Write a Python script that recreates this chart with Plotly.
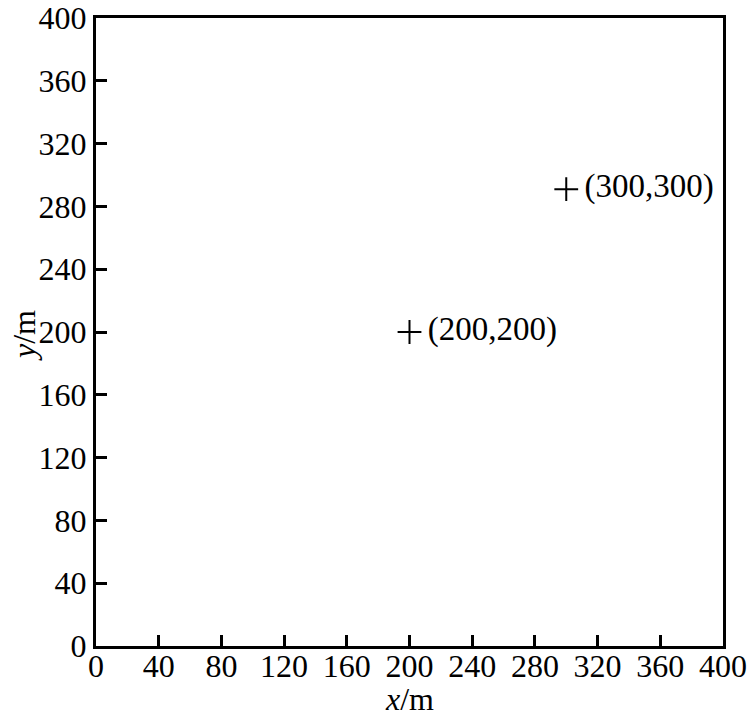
import plotly.graph_objects as go

# data
point_x = [200, 300]
point_y = [200, 291]
point_labels = ["(200,200)", "(300,300)"]
tick_vals = list(range(0, 401, 40))

FONT = "Liberation Serif"
FS = 32

fig = go.Figure()
fig.add_trace(go.Scatter(
    x=point_x, y=point_y,
    mode="markers+text",
    marker=dict(symbol="cross-thin", size=17, line=dict(color="black", width=2), color="black"),
    text=["\u2009" + t for t in point_labels],
    textposition="middle right",
    textfont=dict(family=FONT, size=33, color="black"),
    showlegend=False,
    cliponaxis=False,
))

axis_common = dict(
    range=[0, 400],
    tickvals=tick_vals,
    ticks="inside",
    ticklen=11,
    tickwidth=2.5,
    tickcolor="black",
    showline=True,
    linecolor="black",
    linewidth=3,
    mirror=True,
    showgrid=False,
    zeroline=False,
    automargin=False,
    tickfont=dict(family=FONT, size=FS, color="black"),
)

fig.update_layout(
    width=749, height=721,
    margin=dict(l=96, r=26, t=18, b=75),
    paper_bgcolor="white",
    plot_bgcolor="white",
    xaxis=dict(**axis_common, ticklabelstandoff=-10),
    yaxis=dict(**axis_common),
    annotations=[
        dict(text="<i>x</i>/m", xref="paper", yref="paper", x=0.5, y=-0.085,
             xanchor="center", yanchor="middle", showarrow=False,
             font=dict(family=FONT, size=FS, color="black")),
        dict(text="<i>y</i>/m", xref="paper", yref="paper", x=-0.115, y=0.495,
             xanchor="center", yanchor="middle", showarrow=False, textangle=-90,
             font=dict(family=FONT, size=FS, color="black")),
    ],
)

fig.write_html("out.html", config={"displayModeBar": False},
               post_script="document.body.style.margin='0';document.body.style.overflow='hidden';")
